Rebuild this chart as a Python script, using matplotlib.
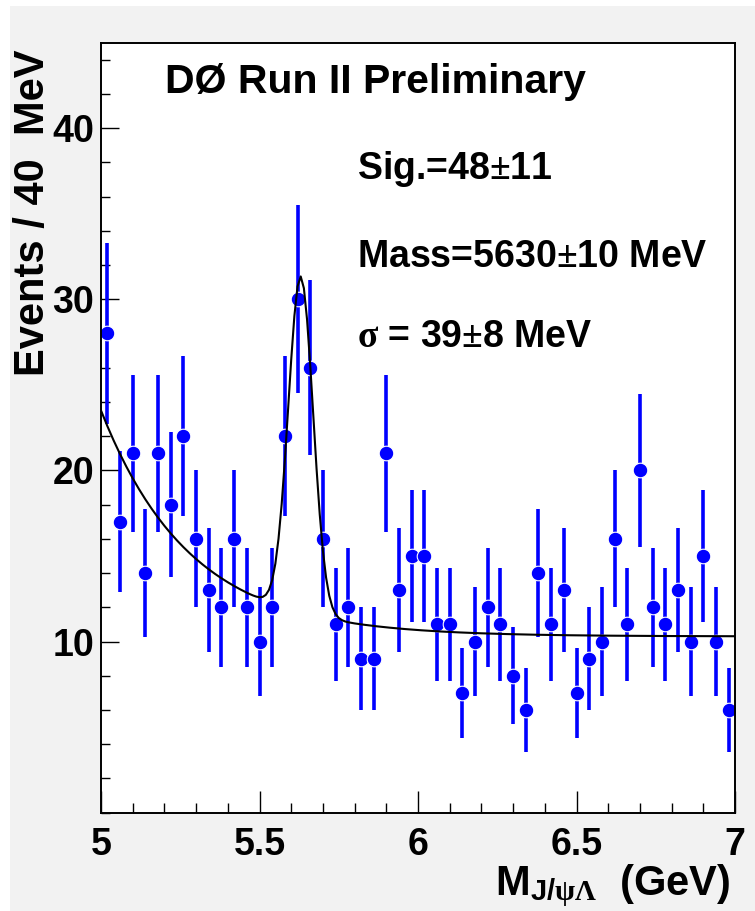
import numpy as np
import matplotlib
matplotlib.use("Agg")
import matplotlib.pyplot as plt
from matplotlib.patches import Rectangle
from matplotlib.ticker import MultipleLocator

plt.rcParams['font.family'] = ['Liberation Sans', 'DejaVu Sans']
plt.rcParams['font.weight'] = 'bold'
plt.rcParams['mathtext.fontset'] = 'custom'
plt.rcParams['mathtext.rm'] = 'Liberation Serif'
plt.rcParams['mathtext.it'] = 'Liberation Serif'
plt.rcParams['mathtext.bf'] = 'Liberation Sans:bold'

# 40 MeV bins from 5 to 7 GeV
bin_lo = 5.0
bin_w = 0.04
counts = [28, 17, 21, 14, 21, 18, 22, 16, 13, 12,
          16, 12, 10, 12, 22, 30, 26, 16, 11, 12,
          9, 9, 21, 13, 15, 15, 11, 11, 7, 10,
          12, 11, 8, 6, 14, 11, 13, 7, 9, 10,
          16, 11, 20, 12, 11, 13, 10, 15, 10, 6]

# fit: gaussian signal + exponential/flat background
sig_yield = 48.0
sig_mass = 5.630
sig_width = 0.039
bkg_flat = 10.3
bkg_amp = 13.2
bkg_slope = 0.28

counts = np.array(counts, dtype=float)
centers = bin_lo + bin_w * (np.arange(len(counts)) + 0.5)
errs = np.sqrt(counts)

xf = np.linspace(5.0, 7.0, 201)
yf = (bkg_flat + bkg_amp * np.exp(-(xf - 5.0) / bkg_slope)
      + sig_yield * bin_w / (np.sqrt(2 * np.pi) * sig_width)
      * np.exp(-0.5 * ((xf - sig_mass) / sig_width) ** 2))

fig = plt.figure(figsize=(7.55, 9.11), dpi=100, facecolor='#f2f2f2')
fig.patches.append(Rectangle((0, 0), 10 / 755, 1, transform=fig.transFigure,
                             facecolor='white', edgecolor='none', zorder=-1))
fig.patches.append(Rectangle((0, 1 - 6 / 911), 1, 6 / 911, transform=fig.transFigure,
                             facecolor='white', edgecolor='none', zorder=-1))

ax = fig.add_axes([101 / 755, 1 - 812.7 / 911, 634 / 755, 770.2 / 911])
ax.set_facecolor('white')

ax.errorbar(centers, counts, yerr=errs, fmt='o', color='#0000ff', ecolor='#0000ff',
            elinewidth=2.6, capsize=0, markersize=10.5, markeredgecolor='white',
            markeredgewidth=0.8, zorder=2)
ax.plot(xf, yf, color='black', lw=1.5, zorder=3)

ax.set_xlim(5, 7)
ax.set_ylim(0, 45)
ax.xaxis.set_major_locator(MultipleLocator(0.5))
ax.xaxis.set_minor_locator(MultipleLocator(0.1))
ax.yaxis.set_major_locator(MultipleLocator(10))
ax.yaxis.set_minor_locator(MultipleLocator(2))
ax.set_yticks([10, 20, 30, 40])
ax.set_xticks([5, 5.5, 6, 6.5, 7])
ax.set_xticklabels(['5', '5.5', '6', '6.5', '7'])

ax.tick_params(axis='both', which='both', direction='in', top=False, right=False,
               width=1.0, labelsize=27)
ax.tick_params(axis='x', which='major', length=16, pad=10)
ax.tick_params(axis='x', which='minor', length=7.5)
ax.tick_params(axis='y', which='major', length=13, pad=5)
ax.tick_params(axis='y', which='minor', length=6.5)
for s in ax.spines.values():
    s.set_linewidth(1.4)

ax.text(5.202, 42.03, 'DØ Run II Preliminary', fontsize=29.5, fontweight='bold',
        va='baseline', ha='left')
ax.text(5.807, 37.0, r'Sig.=48$\pm$11', fontsize=27, fontweight='bold', va='baseline')
ax.text(5.807, 31.9, r'Mass=5630$\pm$10 MeV', fontsize=27, fontweight='bold', va='baseline')
ax.text(5.807, 27.2, r'$\sigma$ = 39$\pm$8 MeV', fontsize=27, fontweight='bold', va='baseline')

ax.text(0.992, -0.1069, r'M$_{\mathbf{J/}\psi\Lambda}$  (GeV)', transform=ax.transAxes,
        fontsize=30, fontweight='bold', ha='right', va='baseline')
fig.text(33 / 755, 1 - 50 / 911, 'Events / 40  MeV', rotation=90, fontsize=30,
         fontweight='bold', ha='center', va='top')

fig.savefig('out.png', dpi=100, facecolor=fig.get_facecolor())
